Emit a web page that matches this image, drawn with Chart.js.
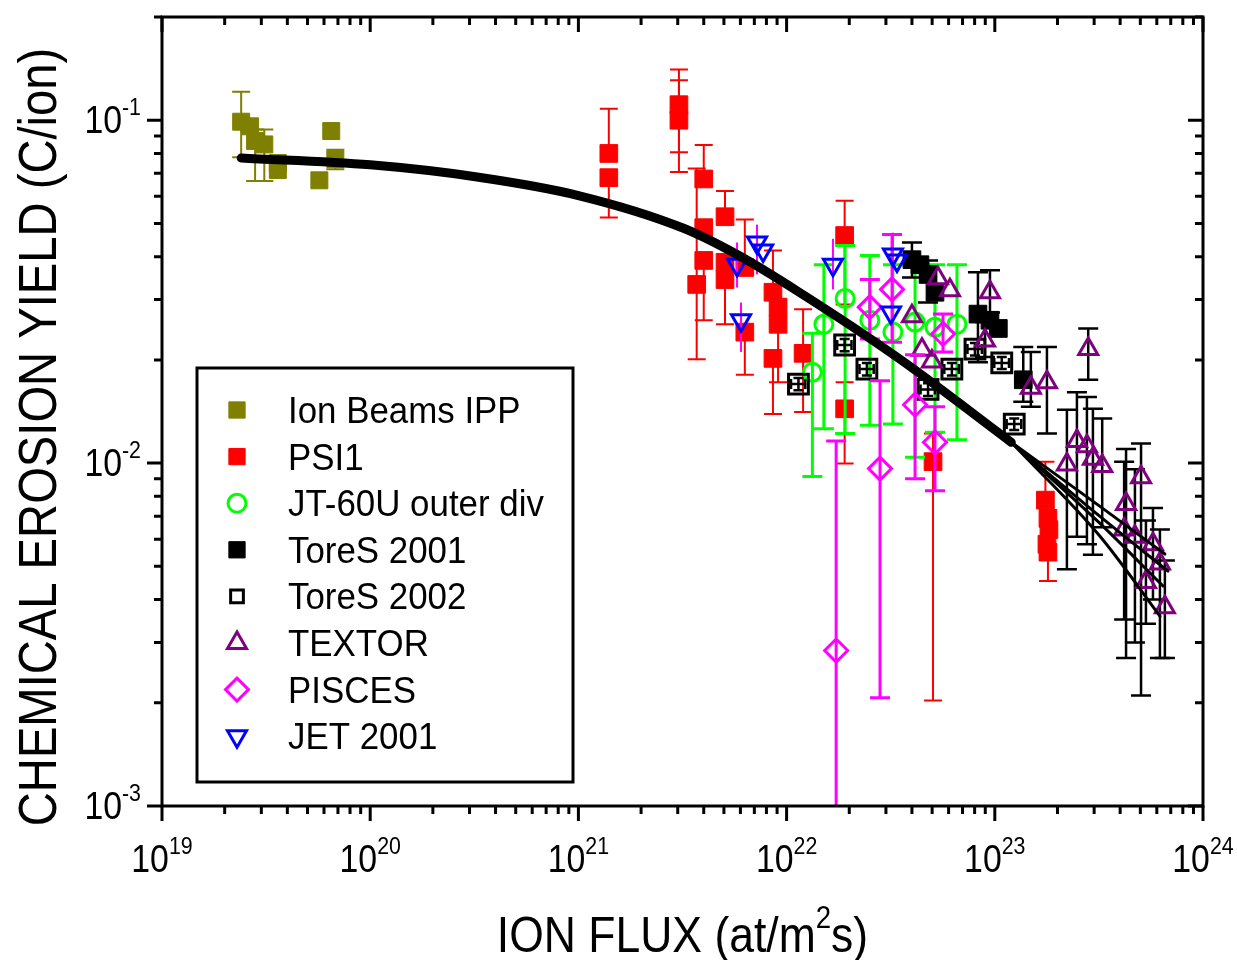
<!DOCTYPE html>
<html>
<head>
<meta charset="utf-8">
<script src="https://cdn.jsdelivr.net/npm/chart.js@4.4.1/dist/chart.umd.min.js"></script>
<style>
    html, body { margin: 0; padding: 0; background: #ffffff; }
    #wrap { width: 1237px; height: 960px; }
</style>
</head>
<body>
<div id="wrap"><canvas id="chart" width="1237" height="960"></canvas></div>
<script>
// ---- data (flux in at/m2s, yield in C/ion) ----

const ionBeamsFlux  = [2.4e19, 2.65e19, 2.8e19, 3.1e19, 3.6e19, 3.6e19, 5.7e19, 6.5e19, 6.8e19];
const ionBeamsYield = [0.099, 0.096, 0.087, 0.085, 0.075, 0.0716, 0.0668, 0.093, 0.077];
const ionBeamsLow   = [0.078, null, 0.0665, 0.0665, null, null, null, null, 0.072];
const ionBeamsHigh  = [0.121, null, 0.094, 0.094, null, null, null, null, 0.082];

const psiFlux  = [1.4e21, 1.4e21, 3.04e21, 3.04e21, 4.0e21, 4.0e21, 4.0e21, 3.7e21, 5.06e21, 5.06e21, 5.06e21,
                  6.3e21, 6.3e21, 8.6e21, 9.1e21, 9.1e21, 8.6e21, 1.2e22, 1.9e22, 1.9e22, 5.05e22,
                  1.75e23, 1.8e23, 1.82e23, 1.78e23, 1.8e23];
const psiYield = [0.080, 0.068, 0.111, 0.100, 0.0674, 0.0486, 0.039, 0.0332, 0.0523, 0.0385, 0.0343,
                  0.0372, 0.0241, 0.0315, 0.0285, 0.0254, 0.0202, 0.0209, 0.0461, 0.0144, 0.0101,
                  0.0078, 0.0069, 0.0064, 0.0058, 0.0055];
const psiLow   = [null, 0.052, 0.0807, 0.0706, null, null, 0.0261, 0.0201, null, null, 0.0254,
                  null, 0.0181, null, null, 0.0172, 0.0139, 0.0141, 0.029, 0.00997, 0.00203,
                  null, null, null, null, 0.00453];
const psiHigh  = [0.108, null, 0.1406, 0.1307, 0.0846, null, null, 0.0723, 0.0622, null, null,
                  0.0513, null, 0.0417, null, null, null, 0.0281, 0.0582, 0.0172, 0.0122,
                  0.0101, null, null, null, null];

const jtFlux  = [1.33e22, 1.51e22, 1.91e22, 2.51e22, 3.24e22, 4.14e22, 5.16e22, 6.58e22];
const jtYield = [0.0184, 0.0254, 0.0302, 0.0261, 0.0241, 0.0258, 0.0249, 0.0254];
const jtLow   = [0.00914, 0.0126, 0.0122, 0.0129, 0.0130, 0.0104, 0.0123, 0.0117];
const jtHigh  = [0.0239, 0.0379, 0.0431, 0.0403, 0.0379, 0.0372, 0.0379, 0.0379];

const tores01Flux  = [4.0e22, 4.37e22, 4.78e22, 5.16e22, 8.3e22, 9.48e22, 1.04e23, 1.37e23];
const tores01Yield = [0.0392, 0.0379, 0.0355, 0.0315, 0.0272, 0.0261, 0.0247, 0.0175];
const tores01Low   = [0.0348, null, 0.0294, null, 0.0197, null, null, 0.0151];
const tores01High  = [0.0440, null, 0.0390, null, 0.0360, null, null, 0.0218];

// ToreS 2002 has small error bars in both directions, inside the open squares
const tores02Flux     = [1.14e22, 1.9e22, 2.43e22, 4.78e22, 6.22e22, 8.03e22, 1.08e23, 1.24e23];
const tores02FluxLow  = [1.05e22, 1.75e22, 2.24e22, 4.4e22, 5.72e22, 7.39e22, 9.94e22, 1.14e23];
const tores02FluxHigh = [1.23e22, 2.05e22, 2.62e22, 5.16e22, 6.72e22, 8.67e22, 1.17e23, 1.34e23];
const tores02Yield = [0.0170, 0.0221, 0.0188, 0.0164, 0.0188, 0.0215, 0.0196, 0.0130];
const tores02Low   = [0.0163, 0.0212, 0.0180, 0.0157, 0.0180, 0.0206, 0.0188, 0.0125];
const tores02High  = [0.0177, 0.0230, 0.0196, 0.0171, 0.0196, 0.0224, 0.0204, 0.0135];

const textorFlux  = [4.0e22, 4.47e22, 4.99e22, 5.33e22, 6.09e22, 8.97e22, 9.48e22, 1.49e23, 1.78e23, 2.81e23,
                     2.22e23, 2.48e23, 2.77e23, 2.96e23, 3.28e23, 5.04e23, 4.27e23, 4.18e23, 4.71e23,
                     5.75e23, 6.21e23, 5.32e23, 6.56e23];
const textorYield = [0.0268, 0.0214, 0.0198, 0.0346, 0.0319, 0.0228, 0.0315, 0.0166, 0.0172, 0.0215,
                     0.0099, 0.0116, 0.0112, 0.0103, 0.0098, 0.0091, 0.0076, 0.0064, 0.0061,
                     0.0058, 0.0051, 0.0045, 0.0038];
const textorLow   = [null, null, null, null, null, 0.0204, 0.0275, 0.0146, 0.0122, 0.0175,
                     0.0049, 0.0061, 0.0058, 0.0054, 0.0065, 0.0021, 0.0027, 0.0035, 0.0030,
                     0.0040, 0.0027, 0.0034, 0.0027];
const textorHigh  = [null, null, null, null, null, 0.0258, 0.0365, 0.0211, 0.0218, 0.0247,
                     0.0143, 0.0161, 0.0156, 0.0144, 0.0135, 0.0114, 0.0110, 0.0101, 0.0096,
                     0.0074, 0.0064, 0.0068, 0.0052];

const piscesFlux  = [1.73e22, 2.81e22, 4.14e22, 5.16e22, 2.51e22, 3.21e22, 5.64e22];
const piscesYield = [0.00284, 0.00964, 0.0148, 0.0115, 0.0285, 0.0321, 0.0238];
const piscesLow   = [0.0005, 0.00207, 0.0090, 0.0083, 0.0230, 0.0225, 0.0211];
const piscesHigh  = [0.0116, 0.0174, 0.0207, 0.0146, 0.0343, 0.0464, 0.0272];

const jetFlux  = [5.78e21, 6.04e21, 7.21e21, 7.71e21, 1.67e22, 3.24e22, 3.39e22, 3.17e22];
const jetYield = [0.0379, 0.0261, 0.0440, 0.0417, 0.0379, 0.0406, 0.0390, 0.0275];
const jetLow   = [0.0325, 0.0211, 0.0355, null, 0.0321, 0.0365, null, null];
const jetHigh  = [0.0440, 0.0294, 0.0496, null, 0.0451, 0.0470, null, null];

// fitted curve (thick part) and the four branches at high flux
const fitFlux  = [2.4e19, 1e20, 3.2e20, 1e21, 3.2e21, 5.9e21, 1.15e22, 3.5e22, 1.2e23];
const fitYield = [0.0776, 0.0741, 0.0684, 0.0603, 0.0484, 0.0403, 0.0315, 0.0201, 0.0115];
const branchAFlux = [1.2e23, 3.2e23, 6.56e23];
const branchAYield = [0.0115, 0.00748, 0.00543];
const branchBFlux = [1.2e23, 3.2e23, 6.79e23];
const branchBYield = [0.0115, 0.00699, 0.00484];
const branchCFlux = [1.2e23, 3.2e23, 6.43e23];
const branchCYield = [0.0115, 0.00667, 0.00438];
const branchDFlux = [1.2e23, 3.2e23, 6.21e23];
const branchDYield = [0.0115, 0.00612, 0.00358];

const xTickExponents = [19, 20, 21, 22, 23, 24];
const yTickExponents = [-3, -2, -1];
const xTitle = ['ION FLUX (at/m', '2', 's)'];
const yTitle = 'CHEMICAL EROSION YIELD (C/ion)';

// ---- styling ----
const FONT = '"Liberation Sans", Arial, sans-serif';
const STRETCH = 0.89;          // glyphs in the figure are narrower than Arial
const OLIVE = '#808000';
const RED = '#ff0000';
const GREEN = '#00ff00';
const BLACK = '#000000';
const PURPLE = '#800080';
const MAGENTA = '#ff00ff';
const BLUE = '#0000ff';
const CLEAR = 'rgba(0,0,0,0)';

function toPoints(xs, ys, lo, hi, xlo, xhi) {
    return xs.map((x, i) => ({
        x, y: ys[i],
        lo: lo ? lo[i] : null, hi: hi ? hi[i] : null,
        xlo: xlo ? xlo[i] : null, xhi: xhi ? xhi[i] : null
    }));
}

function markerSet(label, data, style, order) {
    return Object.assign({
        label,
        data,
        order,
        showLine: false,
        inLegend: true
    }, style);
}

function fitLine(xs, ys, width) {
    return {
        label: 'fit',
        data: toPoints(xs, ys),
        order: 0,
        showLine: true,
        inLegend: false,
        borderColor: BLACK,
        borderWidth: width,
        pointRadius: 0,
        fill: false,
        cubicInterpolationMode: 'monotone',
        borderCapStyle: 'round',
        borderJoinStyle: 'round'
    };
}

const datasets = [
    fitLine(fitFlux, fitYield, 9),
    fitLine(branchAFlux, branchAYield, 3),
    fitLine(branchBFlux, branchBYield, 3),
    fitLine(branchCFlux, branchCYield, 3),
    fitLine(branchDFlux, branchDYield, 3),
    markerSet('Ion Beams IPP', toPoints(ionBeamsFlux, ionBeamsYield, ionBeamsLow, ionBeamsHigh), {
        pointStyle: 'rect', pointRadius: 12, pointBackgroundColor: OLIVE, pointBorderColor: OLIVE,
        pointBorderWidth: 1, errColor: OLIVE, errWidth: 2, errCap: 18
    }, 8),
    markerSet('PSI1', toPoints(psiFlux, psiYield, psiLow, psiHigh), {
        pointStyle: 'rect', pointRadius: 12.5, pointBackgroundColor: RED, pointBorderColor: RED,
        pointBorderWidth: 1, errColor: RED, errWidth: 2, errCap: 18
    }, 7),
    markerSet('JT-60U outer div', toPoints(jtFlux, jtYield, jtLow, jtHigh), {
        pointStyle: 'circle', pointRadius: 9, pointBackgroundColor: CLEAR, pointBorderColor: GREEN,
        pointBorderWidth: 3, errColor: GREEN, errWidth: 3, errCap: 20
    }, 6),
    markerSet('ToreS 2001', toPoints(tores01Flux, tores01Yield, tores01Low, tores01High), {
        pointStyle: 'rect', pointRadius: 12.5, pointBackgroundColor: BLACK, pointBorderColor: BLACK,
        pointBorderWidth: 1, errColor: BLACK, errWidth: 2.5, errCap: 20
    }, 5),
    markerSet('ToreS 2002', toPoints(tores02Flux, tores02Yield, tores02Low, tores02High,
                                     tores02FluxLow, tores02FluxHigh), {
        pointStyle: 'rect', pointRadius: 14, pointBackgroundColor: CLEAR, pointBorderColor: BLACK,
        pointBorderWidth: 3, errColor: BLACK, errWidth: 2.5, errCap: 10
    }, 4),
    markerSet('TEXTOR', toPoints(textorFlux, textorYield, textorLow, textorHigh), {
        pointStyle: 'triangle', pointRadius: 11, pointBackgroundColor: CLEAR, pointBorderColor: PURPLE,
        pointBorderWidth: 3, errColor: BLACK, errWidth: 2.5, errCap: 20
    }, 3),
    markerSet('PISCES', toPoints(piscesFlux, piscesYield, piscesLow, piscesHigh), {
        pointStyle: 'rectRot', pointRadius: 11.5, pointBackgroundColor: CLEAR, pointBorderColor: MAGENTA,
        pointBorderWidth: 3, errColor: MAGENTA, errWidth: 3, errCap: 20
    }, 2),
    markerSet('JET 2001', toPoints(jetFlux, jetYield, jetLow, jetHigh), {
        pointStyle: 'triangle', pointRotation: 180, pointRadius: 11, pointBackgroundColor: CLEAR,
        pointBorderColor: BLUE, pointBorderWidth: 3, errColor: MAGENTA, errWidth: 2, errCap: 0
    }, 1)
];

// ---- helpers for text ----
function drawText(ctx, text, x, y, size, align, stretch) {
    ctx.save();
    ctx.font = size + 'px ' + FONT;
    ctx.translate(x, y);
    ctx.scale(stretch || STRETCH, 1);
    ctx.textAlign = align;
    ctx.textBaseline = 'alphabetic';
    ctx.fillStyle = BLACK;
    ctx.fillText(text, 0, 0);
    ctx.restore();
}

function textWidth(ctx, text, size) {
    ctx.font = size + 'px ' + FONT;
    return ctx.measureText(text).width * STRETCH;
}

// "10" with a raised exponent; align is 'center' or 'right'
function drawPower(ctx, exp, x, y, align) {
    const base = 38, small = 24, raise = 18;
    const wBase = textWidth(ctx, '10', base);
    const wExp = textWidth(ctx, String(exp), small);
    const left = align === 'center' ? x - (wBase + wExp) / 2 : x - wBase - wExp;
    drawText(ctx, '10', left, y, base, 'left');
    drawText(ctx, String(exp), left + wBase, y - raise, small, 'left');
}

// ---- plugins ----
const errorBars = {
    id: 'errorBars',
    beforeDatasetDraw(chart, args) {
        const ds = chart.data.datasets[args.index];
        if (!ds.errColor) return;
        const xs = chart.scales.x, ys = chart.scales.y, area = chart.chartArea;
        const ctx = chart.ctx;
        const half = ds.errCap / 2;
        ctx.save();
        ctx.beginPath();
        ctx.rect(area.left, area.top, area.right - area.left, area.bottom - area.top);
        ctx.clip();
        ctx.strokeStyle = ds.errColor;
        ctx.lineWidth = ds.errWidth;
        ds.data.forEach(p => {
            const px = xs.getPixelForValue(p.x);
            const py = ys.getPixelForValue(p.y);
            ctx.beginPath();
            if (p.lo != null || p.hi != null) {
                const top = ys.getPixelForValue(p.hi != null ? p.hi : p.y);
                const bot = ys.getPixelForValue(p.lo != null ? p.lo : p.y);
                ctx.moveTo(px, top);
                ctx.lineTo(px, bot);
                if (half > 0) {
                    if (p.hi != null) { ctx.moveTo(px - half, top); ctx.lineTo(px + half, top); }
                    if (p.lo != null) { ctx.moveTo(px - half, bot); ctx.lineTo(px + half, bot); }
                }
            }
            if (p.xlo != null && p.xhi != null) {
                const l = xs.getPixelForValue(p.xlo), r = xs.getPixelForValue(p.xhi);
                ctx.moveTo(l, py); ctx.lineTo(r, py);
                ctx.moveTo(l, py - half); ctx.lineTo(l, py + half);
                ctx.moveTo(r, py - half); ctx.lineTo(r, py + half);
            }
            ctx.stroke();
        });
        ctx.restore();
    }
};

const frameAndAxes = {
    id: 'frameAndAxes',
    afterDraw(chart) {
        const ctx = chart.ctx;
        const xs = chart.scales.x, ys = chart.scales.y, a = chart.chartArea;
        const major = 15, minor = 8;

        ctx.save();
        ctx.strokeStyle = BLACK;
        ctx.lineCap = 'square';
        ctx.lineWidth = 3;
        ctx.strokeRect(a.left, a.top, a.right - a.left, a.bottom - a.top);

        // x ticks: outward on the bottom, inward on the top
        ctx.lineWidth = 3;
        ctx.lineCap = 'butt';
        xTickExponents.forEach(e => {
            for (let m = 1; m <= 9; m++) {
                const v = m * Math.pow(10, e);
                if (v > xs.max * 1.0001) break;
                const px = xs.getPixelForValue(v);
                const len = m === 1 ? major : minor;
                ctx.beginPath();
                ctx.moveTo(px, a.bottom); ctx.lineTo(px, a.bottom + len);
                ctx.moveTo(px, a.top); ctx.lineTo(px, a.top + len);
                ctx.stroke();
            }
        });
        // y ticks: outward on the left, inward on the right
        yTickExponents.concat([0]).forEach(e => {
            for (let m = 1; m <= 9; m++) {
                const v = m * Math.pow(10, e);
                if (v < ys.min * 0.9999 || v > ys.max * 1.0001) continue;
                const py = ys.getPixelForValue(v);
                const len = m === 1 ? major : minor;
                ctx.beginPath();
                ctx.moveTo(a.left, py); ctx.lineTo(a.left - len, py);
                ctx.moveTo(a.right, py); ctx.lineTo(a.right - len, py);
                ctx.stroke();
            }
        });

        // tick labels
        xTickExponents.forEach(e => {
            drawPower(ctx, e, xs.getPixelForValue(Math.pow(10, e)), a.bottom + 66, 'center');
        });
        yTickExponents.forEach(e => {
            drawPower(ctx, '-' + Math.abs(e), a.left - 21, ys.getPixelForValue(Math.pow(10, e)) + 13, 'right');
        });

        // axis titles
        const big = 50, sup = 31;
        const w0 = textWidth(ctx, xTitle[0], big);
        const w1 = textWidth(ctx, xTitle[1], sup);
        const w2 = textWidth(ctx, xTitle[2], big);
        const tx = (a.left + a.right) / 2 - (w0 + w1 + w2) / 2;
        const ty = a.bottom + 146;
        drawText(ctx, xTitle[0], tx, ty, big, 'left');
        drawText(ctx, xTitle[1], tx + w0, ty - 24, sup, 'left');
        drawText(ctx, xTitle[2], tx + w0 + w1, ty, big, 'left');

        ctx.save();
        ctx.translate(56, 437);
        ctx.rotate(-Math.PI / 2);
        drawText(ctx, yTitle, 0, 0, 53, 'center');
        ctx.restore();

        // legend box inside the plot
        const box = { left: 197, top: 368, right: 573, bottom: 782 };
        ctx.fillStyle = '#ffffff';
        ctx.fillRect(box.left, box.top, box.right - box.left, box.bottom - box.top);
        ctx.lineWidth = 3;
        ctx.strokeRect(box.left, box.top, box.right - box.left, box.bottom - box.top);
        const entries = chart.data.datasets.filter(d => d.inLegend).sort((p, q) => q.order - p.order);
        entries.forEach((d, i) => {
            const cy = 410 + i * 46.6;
            ctx.save();
            ctx.fillStyle = d.pointBackgroundColor;
            ctx.strokeStyle = d.pointBorderColor;
            ctx.lineWidth = d.pointBorderWidth;
            let r = d.pointRadius;
            if (d.pointStyle === 'rect') r = d.pointBorderWidth > 1 ? 9 : 11.5;
            Chart.helpers.drawPoint(ctx, {
                pointStyle: d.pointStyle, radius: r, rotation: d.pointRotation || 0,
                borderWidth: d.pointBorderWidth
            }, 237, cy);
            ctx.restore();
            drawText(ctx, d.label, 288, cy + 13, 37.5, 'left', 0.93);
        });
        ctx.restore();
    }
};

new Chart(document.getElementById('chart'), {
    type: 'scatter',
    data: { datasets },
    options: {
        responsive: false,
        animation: false,
        devicePixelRatio: 1,
        events: [],
        layout: { padding: { left: 162, top: 14, right: 34, bottom: 154 } },
        plugins: {
            legend: { display: false },
            tooltip: { enabled: false }
        },
        scales: {
            x: { type: 'logarithmic', min: 1e19, max: 1e24, display: false },
            y: { type: 'logarithmic', min: 1e-3, max: 0.2, display: false }
        }
    },
    plugins: [errorBars, frameAndAxes]
});
</script>
</body>
</html>
